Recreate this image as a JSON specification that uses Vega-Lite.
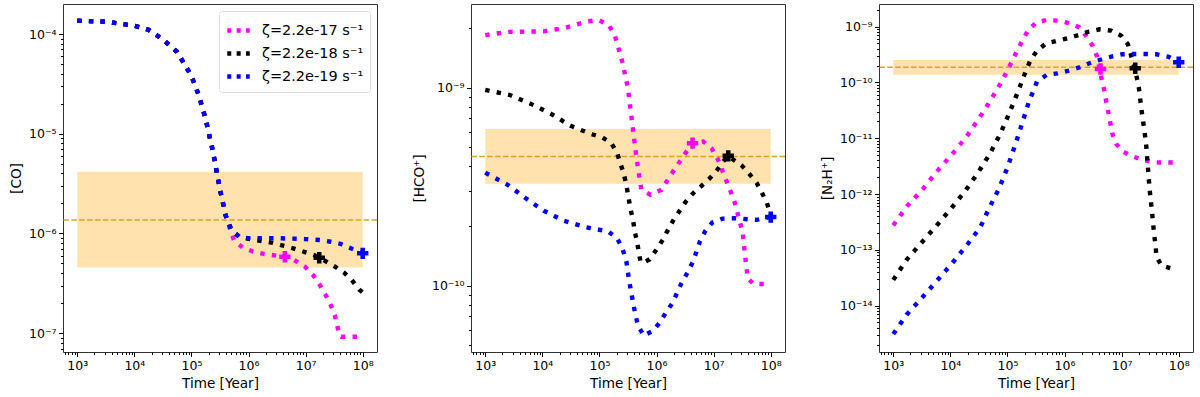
{
"$schema": "https://vega.github.io/schema/vega-lite/v6.json",
"padding": {"left": 8, "top": 3, "right": 5, "bottom": 5},
"background": "white",
"config": {
  "font": "DejaVu Sans",
  "view": {"stroke": "#333", "strokeWidth": 1},
  "axis": {"domain": false, "grid": false, "tickColor": "black", "tickWidth": 1, "labelColor": "black", "labelFontSize": 12.5, "labelFont": "DejaVu Sans", "titleFont": "DejaVu Sans", "titleFontSize": 13.6, "titleFontWeight": "normal", "titleColor": "black", "labelOverlap": false, "labelFlush": false, "labelPadding": 2.5, "titlePadding": 5},
  "legend": {"labelFont": "DejaVu Sans", "labelFontSize": 14.5, "labelColor": "black"}
},
"datasets": {
  "lines": [
    {"p":"CO","s":"ζ=2.2e-17 s⁻¹","t":1e3,"v":1.36e-4},{"p":"CO","s":"ζ=2.2e-17 s⁻¹","t":3162,"v":1.33e-4},{"p":"CO","s":"ζ=2.2e-17 s⁻¹","t":1e4,"v":1.21e-4},{"p":"CO","s":"ζ=2.2e-17 s⁻¹","t":17783,"v":1.1e-4},{"p":"CO","s":"ζ=2.2e-17 s⁻¹","t":31623,"v":8.84e-5},{"p":"CO","s":"ζ=2.2e-17 s⁻¹","t":56234,"v":6.6e-5},{"p":"CO","s":"ζ=2.2e-17 s⁻¹","t":1e5,"v":3.79e-5},{"p":"CO","s":"ζ=2.2e-17 s⁻¹","t":133352,"v":2.46e-5},{"p":"CO","s":"ζ=2.2e-17 s⁻¹","t":177828,"v":1.39e-5},{"p":"CO","s":"ζ=2.2e-17 s⁻¹","t":237137,"v":6.7e-6},{"p":"CO","s":"ζ=2.2e-17 s⁻¹","t":316228,"v":2.74e-6},{"p":"CO","s":"ζ=2.2e-17 s⁻¹","t":398107,"v":1.51e-6},{"p":"CO","s":"ζ=2.2e-17 s⁻¹","t":501187,"v":1.0e-6},{"p":"CO","s":"ζ=2.2e-17 s⁻¹","t":562341,"v":8.4e-7},{"p":"CO","s":"ζ=2.2e-17 s⁻¹","t":787000,"v":7.24e-7},{"p":"CO","s":"ζ=2.2e-17 s⁻¹","t":1.21e6,"v":6.55e-7},{"p":"CO","s":"ζ=2.2e-17 s⁻¹","t":1.905e6,"v":6.2e-7},{"p":"CO","s":"ζ=2.2e-17 s⁻¹","t":4.325e6,"v":5.83e-7},{"p":"CO","s":"ζ=2.2e-17 s⁻¹","t":6.31e6,"v":5.4e-7},{"p":"CO","s":"ζ=2.2e-17 s⁻¹","t":9.77e6,"v":4.63e-7},{"p":"CO","s":"ζ=2.2e-17 s⁻¹","t":1.349e7,"v":3.82e-7},{"p":"CO","s":"ζ=2.2e-17 s⁻¹","t":1.778e7,"v":3.03e-7},{"p":"CO","s":"ζ=2.2e-17 s⁻¹","t":2.254e7,"v":2.4e-7},{"p":"CO","s":"ζ=2.2e-17 s⁻¹","t":2.754e7,"v":1.91e-7},{"p":"CO","s":"ζ=2.2e-17 s⁻¹","t":3.236e7,"v":1.52e-7},{"p":"CO","s":"ζ=2.2e-17 s⁻¹","t":3.606e7,"v":1.17e-7},{"p":"CO","s":"ζ=2.2e-17 s⁻¹","t":3.855e7,"v":9.5e-8},{"p":"CO","s":"ζ=2.2e-17 s⁻¹","t":4.2e7,"v":9.2e-8},{"p":"CO","s":"ζ=2.2e-17 s⁻¹","t":1e8,"v":9.2e-8},
    {"p":"CO","s":"ζ=2.2e-18 s⁻¹","t":1e3,"v":1.36e-4},{"p":"CO","s":"ζ=2.2e-18 s⁻¹","t":3162,"v":1.33e-4},{"p":"CO","s":"ζ=2.2e-18 s⁻¹","t":1e4,"v":1.21e-4},{"p":"CO","s":"ζ=2.2e-18 s⁻¹","t":17783,"v":1.1e-4},{"p":"CO","s":"ζ=2.2e-18 s⁻¹","t":31623,"v":8.84e-5},{"p":"CO","s":"ζ=2.2e-18 s⁻¹","t":56234,"v":6.6e-5},{"p":"CO","s":"ζ=2.2e-18 s⁻¹","t":1e5,"v":3.79e-5},{"p":"CO","s":"ζ=2.2e-18 s⁻¹","t":133352,"v":2.46e-5},{"p":"CO","s":"ζ=2.2e-18 s⁻¹","t":177828,"v":1.39e-5},{"p":"CO","s":"ζ=2.2e-18 s⁻¹","t":237137,"v":6.7e-6},{"p":"CO","s":"ζ=2.2e-18 s⁻¹","t":316228,"v":2.74e-6},{"p":"CO","s":"ζ=2.2e-18 s⁻¹","t":398107,"v":1.51e-6},{"p":"CO","s":"ζ=2.2e-18 s⁻¹","t":501187,"v":1.08e-6},{"p":"CO","s":"ζ=2.2e-18 s⁻¹","t":707946,"v":9.1e-7},{"p":"CO","s":"ζ=2.2e-18 s⁻¹","t":1e6,"v":8.83e-7},{"p":"CO","s":"ζ=2.2e-18 s⁻¹","t":2.63e6,"v":8.05e-7},{"p":"CO","s":"ζ=2.2e-18 s⁻¹","t":6.05e6,"v":7.08e-7},{"p":"CO","s":"ζ=2.2e-18 s⁻¹","t":1.409e7,"v":6.07e-7},{"p":"CO","s":"ζ=2.2e-18 s⁻¹","t":1.845e7,"v":5.61e-7},{"p":"CO","s":"ζ=2.2e-18 s⁻¹","t":3.162e7,"v":4.7e-7},{"p":"CO","s":"ζ=2.2e-18 s⁻¹","t":4.72e7,"v":4.03e-7},{"p":"CO","s":"ζ=2.2e-18 s⁻¹","t":6.457e7,"v":3.4e-7},{"p":"CO","s":"ζ=2.2e-18 s⁻¹","t":8.63e7,"v":2.74e-7},{"p":"CO","s":"ζ=2.2e-18 s⁻¹","t":1e8,"v":2.55e-7},
    {"p":"CO","s":"ζ=2.2e-19 s⁻¹","t":1e3,"v":1.36e-4},{"p":"CO","s":"ζ=2.2e-19 s⁻¹","t":3162,"v":1.33e-4},{"p":"CO","s":"ζ=2.2e-19 s⁻¹","t":1e4,"v":1.21e-4},{"p":"CO","s":"ζ=2.2e-19 s⁻¹","t":17783,"v":1.1e-4},{"p":"CO","s":"ζ=2.2e-19 s⁻¹","t":31623,"v":8.84e-5},{"p":"CO","s":"ζ=2.2e-19 s⁻¹","t":56234,"v":6.6e-5},{"p":"CO","s":"ζ=2.2e-19 s⁻¹","t":1e5,"v":3.79e-5},{"p":"CO","s":"ζ=2.2e-19 s⁻¹","t":133352,"v":2.46e-5},{"p":"CO","s":"ζ=2.2e-19 s⁻¹","t":177828,"v":1.39e-5},{"p":"CO","s":"ζ=2.2e-19 s⁻¹","t":237137,"v":6.7e-6},{"p":"CO","s":"ζ=2.2e-19 s⁻¹","t":316228,"v":2.74e-6},{"p":"CO","s":"ζ=2.2e-19 s⁻¹","t":398107,"v":1.51e-6},{"p":"CO","s":"ζ=2.2e-19 s⁻¹","t":501187,"v":1.08e-6},{"p":"CO","s":"ζ=2.2e-19 s⁻¹","t":707946,"v":9.1e-7},{"p":"CO","s":"ζ=2.2e-19 s⁻¹","t":1e6,"v":8.97e-7},{"p":"CO","s":"ζ=2.2e-19 s⁻¹","t":3.16e6,"v":8.95e-7},{"p":"CO","s":"ζ=2.2e-19 s⁻¹","t":1e7,"v":8.77e-7},{"p":"CO","s":"ζ=2.2e-19 s⁻¹","t":1.778e7,"v":8.57e-7},{"p":"CO","s":"ζ=2.2e-19 s⁻¹","t":2.754e7,"v":8.24e-7},{"p":"CO","s":"ζ=2.2e-19 s⁻¹","t":4.2e7,"v":7.82e-7},{"p":"CO","s":"ζ=2.2e-19 s⁻¹","t":5.62e7,"v":7.24e-7},{"p":"CO","s":"ζ=2.2e-19 s⁻¹","t":7.9e7,"v":6.7e-7},{"p":"CO","s":"ζ=2.2e-19 s⁻¹","t":1e8,"v":6.31e-7},

    {"p":"HCO","s":"ζ=2.2e-17 s⁻¹","t":1e3,"v":1.84e-9},{"p":"HCO","s":"ζ=2.2e-17 s⁻¹","t":2630,"v":1.91e-9},{"p":"HCO","s":"ζ=2.2e-17 s⁻¹","t":10470,"v":1.92e-9},{"p":"HCO","s":"ζ=2.2e-17 s⁻¹","t":25120,"v":2.0e-9},{"p":"HCO","s":"ζ=2.2e-17 s⁻¹","t":63100,"v":2.16e-9},{"p":"HCO","s":"ζ=2.2e-17 s⁻¹","t":97700,"v":2.19e-9},{"p":"HCO","s":"ζ=2.2e-17 s⁻¹","t":144500,"v":2.07e-9},{"p":"HCO","s":"ζ=2.2e-17 s⁻¹","t":184500,"v":1.85e-9},{"p":"HCO","s":"ζ=2.2e-17 s⁻¹","t":251200,"v":1.35e-9},{"p":"HCO","s":"ζ=2.2e-17 s⁻¹","t":316200,"v":9.9e-10},{"p":"HCO","s":"ζ=2.2e-17 s⁻¹","t":387300,"v":6.12e-10},{"p":"HCO","s":"ζ=2.2e-17 s⁻¹","t":442600,"v":4.49e-10},{"p":"HCO","s":"ζ=2.2e-17 s⁻¹","t":542000,"v":3.05e-10},{"p":"HCO","s":"ζ=2.2e-17 s⁻¹","t":780000,"v":2.88e-10},{"p":"HCO","s":"ζ=2.2e-17 s⁻¹","t":1.216e6,"v":3.05e-10},{"p":"HCO","s":"ζ=2.2e-17 s⁻¹","t":1.95e6,"v":3.77e-10},{"p":"HCO","s":"ζ=2.2e-17 s⁻¹","t":3.214e6,"v":4.67e-10},{"p":"HCO","s":"ζ=2.2e-17 s⁻¹","t":4.266e6,"v":5.24e-10},{"p":"HCO","s":"ζ=2.2e-17 s⁻¹","t":6.56e6,"v":5.34e-10},{"p":"HCO","s":"ζ=2.2e-17 s⁻¹","t":9.2e6,"v":4.94e-10},{"p":"HCO","s":"ζ=2.2e-17 s⁻¹","t":1.202e7,"v":4.31e-10},{"p":"HCO","s":"ζ=2.2e-17 s⁻¹","t":1.479e7,"v":3.7e-10},{"p":"HCO","s":"ζ=2.2e-17 s⁻¹","t":1.932e7,"v":3.05e-10},{"p":"HCO","s":"ζ=2.2e-17 s⁻¹","t":2.366e7,"v":2.61e-10},{"p":"HCO","s":"ζ=2.2e-17 s⁻¹","t":2.818e7,"v":2.15e-10},{"p":"HCO","s":"ζ=2.2e-17 s⁻¹","t":3.236e7,"v":1.85e-10},{"p":"HCO","s":"ζ=2.2e-17 s⁻¹","t":3.548e7,"v":1.43e-10},{"p":"HCO","s":"ζ=2.2e-17 s⁻¹","t":3.945e7,"v":1.09e-10},{"p":"HCO","s":"ζ=2.2e-17 s⁻¹","t":5.012e7,"v":1.02e-10},{"p":"HCO","s":"ζ=2.2e-17 s⁻¹","t":1e8,"v":1.02e-10},
    {"p":"HCO","s":"ζ=2.2e-18 s⁻¹","t":1e3,"v":9.73e-10},{"p":"HCO","s":"ζ=2.2e-18 s⁻¹","t":2630,"v":9.19e-10},{"p":"HCO","s":"ζ=2.2e-18 s⁻¹","t":6310,"v":8.27e-10},{"p":"HCO","s":"ζ=2.2e-18 s⁻¹","t":14220,"v":7.37e-10},{"p":"HCO","s":"ζ=2.2e-18 s⁻¹","t":30690,"v":6.43e-10},{"p":"HCO","s":"ζ=2.2e-18 s⁻¹","t":71780,"v":5.82e-10},{"p":"HCO","s":"ζ=2.2e-18 s⁻¹","t":110400,"v":5.62e-10},{"p":"HCO","s":"ζ=2.2e-18 s⁻¹","t":161100,"v":5.24e-10},{"p":"HCO","s":"ζ=2.2e-18 s⁻¹","t":202800,"v":4.7e-10},{"p":"HCO","s":"ζ=2.2e-18 s⁻¹","t":231700,"v":4.15e-10},{"p":"HCO","s":"ζ=2.2e-18 s⁻¹","t":265500,"v":3.7e-10},{"p":"HCO","s":"ζ=2.2e-18 s⁻¹","t":295800,"v":3.23e-10},{"p":"HCO","s":"ζ=2.2e-18 s⁻¹","t":320600,"v":2.82e-10},{"p":"HCO","s":"ζ=2.2e-18 s⁻¹","t":347500,"v":2.46e-10},{"p":"HCO","s":"ζ=2.2e-18 s⁻¹","t":387300,"v":2.15e-10},{"p":"HCO","s":"ζ=2.2e-18 s⁻¹","t":414000,"v":1.88e-10},{"p":"HCO","s":"ζ=2.2e-18 s⁻¹","t":455000,"v":1.67e-10},{"p":"HCO","s":"ζ=2.2e-18 s⁻¹","t":521200,"v":1.33e-10},{"p":"HCO","s":"ζ=2.2e-18 s⁻¹","t":579400,"v":1.3e-10},{"p":"HCO","s":"ζ=2.2e-18 s⁻¹","t":758600,"v":1.36e-10},{"p":"HCO","s":"ζ=2.2e-18 s⁻¹","t":995400,"v":1.52e-10},{"p":"HCO","s":"ζ=2.2e-18 s⁻¹","t":1.259e6,"v":1.69e-10},{"p":"HCO","s":"ζ=2.2e-18 s⁻¹","t":1.549e6,"v":1.89e-10},{"p":"HCO","s":"ζ=2.2e-18 s⁻¹","t":1.95e6,"v":2.13e-10},{"p":"HCO","s":"ζ=2.2e-18 s⁻¹","t":2.489e6,"v":2.37e-10},{"p":"HCO","s":"ζ=2.2e-18 s⁻¹","t":3.258e6,"v":2.66e-10},{"p":"HCO","s":"ζ=2.2e-18 s⁻¹","t":4.385e6,"v":2.93e-10},{"p":"HCO","s":"ζ=2.2e-18 s⁻¹","t":6.138e6,"v":3.19e-10},{"p":"HCO","s":"ζ=2.2e-18 s⁻¹","t":8.59e6,"v":3.49e-10},{"p":"HCO","s":"ζ=2.2e-18 s⁻¹","t":1.156e7,"v":3.84e-10},{"p":"HCO","s":"ζ=2.2e-18 s⁻¹","t":1.476e7,"v":4.24e-10},{"p":"HCO","s":"ζ=2.2e-18 s⁻¹","t":1.803e7,"v":4.52e-10},{"p":"HCO","s":"ζ=2.2e-18 s⁻¹","t":2.153e7,"v":4.35e-10},{"p":"HCO","s":"ζ=2.2e-18 s⁻¹","t":3.09e7,"v":4.05e-10},{"p":"HCO","s":"ζ=2.2e-18 s⁻¹","t":4.217e7,"v":3.67e-10},{"p":"HCO","s":"ζ=2.2e-18 s⁻¹","t":5.675e7,"v":3.3e-10},{"p":"HCO","s":"ζ=2.2e-18 s⁻¹","t":6.95e7,"v":2.96e-10},{"p":"HCO","s":"ζ=2.2e-18 s⁻¹","t":8.51e7,"v":2.63e-10},{"p":"HCO","s":"ζ=2.2e-18 s⁻¹","t":1e8,"v":2.28e-10},
    {"p":"HCO","s":"ζ=2.2e-19 s⁻¹","t":1e3,"v":3.72e-10},{"p":"HCO","s":"ζ=2.2e-19 s⁻¹","t":2466,"v":3.23e-10},{"p":"HCO","s":"ζ=2.2e-19 s⁻¹","t":5047,"v":2.77e-10},{"p":"HCO","s":"ζ=2.2e-19 s⁻¹","t":10590,"v":2.39e-10},{"p":"HCO","s":"ζ=2.2e-19 s⁻¹","t":23440,"v":2.13e-10},{"p":"HCO","s":"ζ=2.2e-19 s⁻¹","t":58610,"v":1.97e-10},{"p":"HCO","s":"ζ=2.2e-19 s⁻¹","t":140900,"v":1.88e-10},{"p":"HCO","s":"ζ=2.2e-19 s⁻¹","t":202800,"v":1.74e-10},{"p":"HCO","s":"ζ=2.2e-19 s⁻¹","t":251200,"v":1.55e-10},{"p":"HCO","s":"ζ=2.2e-19 s⁻¹","t":295800,"v":1.33e-10},{"p":"HCO","s":"ζ=2.2e-19 s⁻¹","t":329600,"v":1.07e-10},{"p":"HCO","s":"ζ=2.2e-19 s⁻¹","t":362200,"v":9.18e-11},{"p":"HCO","s":"ζ=2.2e-19 s⁻¹","t":425600,"v":7.14e-11},{"p":"HCO","s":"ζ=2.2e-19 s⁻¹","t":474200,"v":6.29e-11},{"p":"HCO","s":"ζ=2.2e-19 s⁻¹","t":595700,"v":5.6e-11},{"p":"HCO","s":"ζ=2.2e-19 s⁻¹","t":871000,"v":5.93e-11},{"p":"HCO","s":"ζ=2.2e-19 s⁻¹","t":1.138e6,"v":6.53e-11},{"p":"HCO","s":"ζ=2.2e-19 s⁻¹","t":1.445e6,"v":7.28e-11},{"p":"HCO","s":"ζ=2.2e-19 s⁻¹","t":1.901e6,"v":8.18e-11},{"p":"HCO","s":"ζ=2.2e-19 s⁻¹","t":2.735e6,"v":1.03e-10},{"p":"HCO","s":"ζ=2.2e-19 s⁻¹","t":3.581e6,"v":1.18e-10},{"p":"HCO","s":"ζ=2.2e-19 s⁻¹","t":4.385e6,"v":1.33e-10},{"p":"HCO","s":"ζ=2.2e-19 s⁻¹","t":5.741e6,"v":1.67e-10},{"p":"HCO","s":"ζ=2.2e-19 s⁻¹","t":7.211e6,"v":1.9e-10},{"p":"HCO","s":"ζ=2.2e-19 s⁻¹","t":9.44e6,"v":2.08e-10},{"p":"HCO","s":"ζ=2.2e-19 s⁻¹","t":1.435e7,"v":2.18e-10},{"p":"HCO","s":"ζ=2.2e-19 s⁻¹","t":2.301e7,"v":2.19e-10},{"p":"HCO","s":"ζ=2.2e-19 s⁻¹","t":5.675e7,"v":2.15e-10},{"p":"HCO","s":"ζ=2.2e-19 s⁻¹","t":1e8,"v":2.22e-10},

    {"p":"N2H","s":"ζ=2.2e-17 s⁻¹","t":1e3,"v":2.75e-13},{"p":"N2H","s":"ζ=2.2e-17 s⁻¹","t":1762,"v":6.16e-13},{"p":"N2H","s":"ζ=2.2e-17 s⁻¹","t":3311,"v":1.24e-12},{"p":"N2H","s":"ζ=2.2e-17 s⁻¹","t":5929,"v":2.61e-12},{"p":"N2H","s":"ζ=2.2e-17 s⁻¹","t":10860,"v":5.26e-12},{"p":"N2H","s":"ζ=2.2e-17 s⁻¹","t":19140,"v":1.07e-11},{"p":"N2H","s":"ζ=2.2e-17 s⁻¹","t":31990,"v":2.29e-11},{"p":"N2H","s":"ζ=2.2e-17 s⁻¹","t":51290,"v":4.87e-11},{"p":"N2H","s":"ζ=2.2e-17 s⁻¹","t":82220,"v":1.11e-10},{"p":"N2H","s":"ζ=2.2e-17 s⁻¹","t":123000,"v":2.53e-10},{"p":"N2H","s":"ζ=2.2e-17 s⁻¹","t":184500,"v":5.77e-10},{"p":"N2H","s":"ζ=2.2e-17 s⁻¹","t":231700,"v":8.71e-10},{"p":"N2H","s":"ζ=2.2e-17 s⁻¹","t":316200,"v":1.18e-9},{"p":"N2H","s":"ζ=2.2e-17 s⁻¹","t":486400,"v":1.32e-9},{"p":"N2H","s":"ζ=2.2e-17 s⁻¹","t":779800,"v":1.28e-9},{"p":"N2H","s":"ζ=2.2e-17 s⁻¹","t":1.216e6,"v":1.15e-9},{"p":"N2H","s":"ζ=2.2e-17 s⁻¹","t":1.824e6,"v":9.73e-10},{"p":"N2H","s":"ζ=2.2e-17 s⁻¹","t":2.388e6,"v":6.81e-10},{"p":"N2H","s":"ζ=2.2e-17 s⁻¹","t":3.126e6,"v":4.51e-10},{"p":"N2H","s":"ζ=2.2e-17 s⁻¹","t":3.724e6,"v":2.9e-10},{"p":"N2H","s":"ζ=2.2e-17 s⁻¹","t":4.093e6,"v":1.8e-10},{"p":"N2H","s":"ζ=2.2e-17 s⁻¹","t":4.498e6,"v":1.11e-10},{"p":"N2H","s":"ζ=2.2e-17 s⁻¹","t":5.012e6,"v":6.87e-11},{"p":"N2H","s":"ζ=2.2e-17 s⁻¹","t":5.508e6,"v":3.96e-11},{"p":"N2H","s":"ζ=2.2e-17 s⁻¹","t":6.138e6,"v":2.29e-11},{"p":"N2H","s":"ζ=2.2e-17 s⁻¹","t":6.839e6,"v":1.23e-11},{"p":"N2H","s":"ζ=2.2e-17 s⁻¹","t":8.035e6,"v":7.94e-12},{"p":"N2H","s":"ζ=2.2e-17 s⁻¹","t":1.052e7,"v":5.79e-12},{"p":"N2H","s":"ζ=2.2e-17 s⁻¹","t":1.578e7,"v":4.71e-12},{"p":"N2H","s":"ζ=2.2e-17 s⁻¹","t":2.366e7,"v":4.1e-12},{"p":"N2H","s":"ζ=2.2e-17 s⁻¹","t":3.784e7,"v":3.68e-12},{"p":"N2H","s":"ζ=2.2e-17 s⁻¹","t":1e8,"v":3.68e-12},
    {"p":"N2H","s":"ζ=2.2e-18 s⁻¹","t":1e3,"v":2.9e-14},{"p":"N2H","s":"ζ=2.2e-18 s⁻¹","t":1714,"v":6.65e-14},{"p":"N2H","s":"ζ=2.2e-18 s⁻¹","t":3148,"v":1.36e-13},{"p":"N2H","s":"ζ=2.2e-18 s⁻¹","t":5689,"v":2.7e-13},{"p":"N2H","s":"ζ=2.2e-18 s⁻¹","t":10450,"v":5.6e-13},{"p":"N2H","s":"ζ=2.2e-18 s⁻¹","t":17910,"v":1.11e-12},{"p":"N2H","s":"ζ=2.2e-18 s⁻¹","t":30690,"v":2.44e-12},{"p":"N2H","s":"ζ=2.2e-18 s⁻¹","t":49890,"v":5.41e-12},{"p":"N2H","s":"ζ=2.2e-18 s⁻¹","t":74820,"v":1.2e-11},{"p":"N2H","s":"ζ=2.2e-18 s⁻¹","t":107600,"v":2.81e-11},{"p":"N2H","s":"ζ=2.2e-18 s⁻¹","t":150700,"v":6.59e-11},{"p":"N2H","s":"ζ=2.2e-18 s⁻¹","t":210900,"v":1.63e-10},{"p":"N2H","s":"ζ=2.2e-18 s⁻¹","t":251200,"v":2.46e-10},{"p":"N2H","s":"ζ=2.2e-18 s⁻¹","t":325100,"v":3.66e-10},{"p":"N2H","s":"ζ=2.2e-18 s⁻¹","t":461300,"v":4.9e-10},{"p":"N2H","s":"ζ=2.2e-18 s⁻¹","t":709600,"v":5.54e-10},{"p":"N2H","s":"ζ=2.2e-18 s⁻¹","t":1.138e6,"v":6.18e-10},{"p":"N2H","s":"ζ=2.2e-18 s⁻¹","t":1.774e6,"v":7.1e-10},{"p":"N2H","s":"ζ=2.2e-18 s⁻¹","t":2.661e6,"v":8.15e-10},{"p":"N2H","s":"ζ=2.2e-18 s⁻¹","t":4.093e6,"v":8.96e-10},{"p":"N2H","s":"ζ=2.2e-18 s⁻¹","t":6.561e6,"v":8.48e-10},{"p":"N2H","s":"ζ=2.2e-18 s⁻¹","t":9.84e6,"v":6.9e-10},{"p":"N2H","s":"ζ=2.2e-18 s⁻¹","t":1.288e7,"v":4.83e-10},{"p":"N2H","s":"ζ=2.2e-18 s⁻¹","t":1.476e7,"v":2.98e-10},{"p":"N2H","s":"ζ=2.2e-18 s⁻¹","t":1.687e7,"v":1.8e-10},{"p":"N2H","s":"ζ=2.2e-18 s⁻¹","t":1.854e7,"v":1.19e-10},{"p":"N2H","s":"ζ=2.2e-18 s⁻¹","t":2.009e7,"v":7.87e-11},{"p":"N2H","s":"ζ=2.2e-18 s⁻¹","t":2.123e7,"v":4.87e-11},{"p":"N2H","s":"ζ=2.2e-18 s⁻¹","t":2.27e7,"v":2.81e-11},{"p":"N2H","s":"ζ=2.2e-18 s⁻¹","t":2.427e7,"v":1.74e-11},{"p":"N2H","s":"ζ=2.2e-18 s⁻¹","t":2.564e7,"v":1.15e-11},{"p":"N2H","s":"ζ=2.2e-18 s⁻¹","t":2.704e7,"v":7.11e-12},{"p":"N2H","s":"ζ=2.2e-18 s⁻¹","t":2.891e7,"v":2.91e-12},{"p":"N2H","s":"ζ=2.2e-18 s⁻¹","t":3.097e7,"v":1.19e-12},{"p":"N2H","s":"ζ=2.2e-18 s⁻¹","t":3.404e7,"v":4.89e-13},{"p":"N2H","s":"ζ=2.2e-18 s⁻¹","t":3.69e7,"v":2.0e-13},{"p":"N2H","s":"ζ=2.2e-18 s⁻¹","t":3.945e7,"v":1.15e-13},{"p":"N2H","s":"ζ=2.2e-18 s⁻¹","t":4.055e7,"v":7.64e-14},{"p":"N2H","s":"ζ=2.2e-18 s⁻¹","t":4.966e7,"v":5.27e-14},{"p":"N2H","s":"ζ=2.2e-18 s⁻¹","t":7.943e7,"v":4.53e-14},
    {"p":"N2H","s":"ζ=2.2e-19 s⁻¹","t":1e3,"v":3.11e-15},{"p":"N2H","s":"ζ=2.2e-19 s⁻¹","t":1714,"v":6.9e-15},{"p":"N2H","s":"ζ=2.2e-19 s⁻¹","t":3148,"v":1.37e-14},{"p":"N2H","s":"ζ=2.2e-19 s⁻¹","t":5689,"v":2.73e-14},{"p":"N2H","s":"ζ=2.2e-19 s⁻¹","t":10450,"v":5.57e-14},{"p":"N2H","s":"ζ=2.2e-19 s⁻¹","t":18620,"v":1.15e-13},{"p":"N2H","s":"ζ=2.2e-19 s⁻¹","t":33270,"v":2.52e-13},{"p":"N2H","s":"ζ=2.2e-19 s⁻¹","t":47860,"v":5.6e-13},{"p":"N2H","s":"ζ=2.2e-19 s⁻¹","t":71780,"v":1.28e-12},{"p":"N2H","s":"ζ=2.2e-19 s⁻¹","t":100500,"v":3.03e-12},{"p":"N2H","s":"ζ=2.2e-19 s⁻¹","t":135200,"v":7.41e-12},{"p":"N2H","s":"ζ=2.2e-19 s⁻¹","t":179500,"v":1.81e-11},{"p":"N2H","s":"ζ=2.2e-19 s⁻¹","t":235000,"v":4.36e-11},{"p":"N2H","s":"ζ=2.2e-19 s⁻¹","t":276100,"v":6.59e-11},{"p":"N2H","s":"ζ=2.2e-19 s⁻¹","t":329600,"v":1.04e-10},{"p":"N2H","s":"ζ=2.2e-19 s⁻¹","t":486400,"v":1.37e-10},{"p":"N2H","s":"ζ=2.2e-19 s⁻¹","t":760300,"v":1.46e-10},{"p":"N2H","s":"ζ=2.2e-19 s⁻¹","t":1.186e6,"v":1.63e-10},{"p":"N2H","s":"ζ=2.2e-19 s⁻¹","t":1.824e6,"v":1.87e-10},{"p":"N2H","s":"ζ=2.2e-19 s⁻¹","t":2.735e6,"v":2.21e-10},{"p":"N2H","s":"ζ=2.2e-19 s⁻¹","t":4.093e6,"v":2.53e-10},{"p":"N2H","s":"ζ=2.2e-19 s⁻¹","t":6.561e6,"v":2.9e-10},{"p":"N2H","s":"ζ=2.2e-19 s⁻¹","t":1.026e7,"v":3.2e-10},{"p":"N2H","s":"ζ=2.2e-19 s⁻¹","t":1.641e7,"v":3.24e-10},{"p":"N2H","s":"ζ=2.2e-19 s⁻¹","t":2.6e7,"v":3.24e-10},{"p":"N2H","s":"ζ=2.2e-19 s⁻¹","t":4.055e7,"v":3.2e-10},{"p":"N2H","s":"ζ=2.2e-19 s⁻¹","t":6.501e7,"v":2.9e-10},{"p":"N2H","s":"ζ=2.2e-19 s⁻¹","t":1e8,"v":2.36e-10}
  ],
  "marks": [
    {"p":"CO","s":"ζ=2.2e-17 s⁻¹","t":4.33e6,"v":5.83e-7},{"p":"CO","s":"ζ=2.2e-18 s⁻¹","t":1.73e7,"v":5.7e-7},{"p":"CO","s":"ζ=2.2e-19 s⁻¹","t":1e8,"v":6.31e-7},
    {"p":"HCO","s":"ζ=2.2e-17 s⁻¹","t":4.27e6,"v":5.24e-10},{"p":"HCO","s":"ζ=2.2e-18 s⁻¹","t":1.8e7,"v":4.52e-10},{"p":"HCO","s":"ζ=2.2e-19 s⁻¹","t":1e8,"v":2.22e-10},
    {"p":"N2H","s":"ζ=2.2e-17 s⁻¹","t":4.27e6,"v":1.75e-10},{"p":"N2H","s":"ζ=2.2e-18 s⁻¹","t":1.73e7,"v":1.8e-10},{"p":"N2H","s":"ζ=2.2e-19 s⁻¹","t":1e8,"v":2.3e-10}
  ],
  "bands": [
    {"p":"CO","t":1e3,"t2":1e8,"v":4.56e-7,"v2":4.16e-6},
    {"p":"HCO","t":1e3,"t2":1e8,"v":3.27e-10,"v2":6.17e-10},
    {"p":"N2H","t":1e3,"t2":1e8,"v":1.38e-10,"v2":2.54e-10}
  ],
  "obs": [
    {"p":"CO","v":1.36e-6},
    {"p":"HCO","v":4.49e-10},
    {"p":"N2H","v":1.87e-10}
  ]
},
"hconcat": [
  {
    "width": 314, "height": 348,
    "layer": [
      {"data": {"name": "bands"}, "transform": [{"filter": "datum.p == 'CO'"}], "mark": {"type": "rect", "color": "#ffa500", "opacity": 0.32},
       "encoding": {"x": {"field": "t", "type": "quantitative", "scale": {"type": "log", "domain": [562.34, 1.7783e8], "nice": false}}, "x2": {"field": "t2"},
                    "y": {"field": "v", "type": "quantitative", "scale": {"type": "log", "domain": [6.46e-8, 2.0e-4], "nice": false}}, "y2": {"field": "v2"}}},
      {"data": {"name": "obs"}, "transform": [{"filter": "datum.p == 'CO'"}], "mark": {"type": "rule", "color": "#daa520", "strokeWidth": 1.5, "strokeDash": [5.5, 2.4]},
       "encoding": {"y": {"field": "v", "type": "quantitative", "scale": {"type": "log", "domain": [6.46e-8, 2.0e-4], "nice": false}}}},
      {"data": {"name": "lines"}, "transform": [{"filter": "datum.p == 'CO'"}], "mark": {"type": "line", "strokeWidth": 4.4, "strokeDash": [4.4, 7.2], "strokeCap": "butt", "clip": true},
       "encoding": {
         "x": {"field": "t", "type": "quantitative", "scale": {"type": "log", "domain": [562.34, 1.7783e8], "nice": false},
               "axis": {"title": "Time [Year]", "values": [600,700,800,900,1e3,2e3,3e3,4e3,5e3,6e3,7e3,8e3,9e3,1e4,2e4,3e4,4e4,5e4,6e4,7e4,8e4,9e4,1e5,2e5,3e5,4e5,5e5,6e5,7e5,8e5,9e5,1e6,2e6,3e6,4e6,5e6,6e6,7e6,8e6,9e6,1e7,2e7,3e7,4e7,5e7,6e7,7e7,8e7,9e7,1e8],
                        "labelExpr": "abs(log(datum.value)/LN10-round(log(datum.value)/LN10))<0.001 ? '10'+replace(replace(replace(replace(replace(replace(replace(replace(replace(replace(replace(''+round(log(datum.value)/LN10),'-','⁻'),regexp('0','g'),'⁰'),regexp('1','g'),'¹'),regexp('2','g'),'²'),regexp('3','g'),'³'),regexp('4','g'),'⁴'),regexp('5','g'),'⁵'),regexp('6','g'),'⁶'),regexp('7','g'),'⁷'),regexp('8','g'),'⁸'),regexp('9','g'),'⁹') : ''",
                        "tickSize": {"condition": {"test": "abs(log(datum.value)/LN10-round(log(datum.value)/LN10))>0.001", "value": 2.5}, "value": 4.5}}},
         "y": {"field": "v", "type": "quantitative", "scale": {"type": "log", "domain": [6.46e-8, 2.0e-4], "nice": false},
               "axis": {"title": "[CO]", "values": [7e-8,8e-8,9e-8,1e-7,2e-7,3e-7,4e-7,5e-7,6e-7,7e-7,8e-7,9e-7,1e-6,2e-6,3e-6,4e-6,5e-6,6e-6,7e-6,8e-6,9e-6,1e-5,2e-5,3e-5,4e-5,5e-5,6e-5,7e-5,8e-5,9e-5,1e-4],
                        "labelExpr": "abs(log(datum.value)/LN10-round(log(datum.value)/LN10))<0.001 ? '10'+replace(replace(replace(replace(replace(replace(replace(replace(replace(replace(replace(''+round(log(datum.value)/LN10),'-','⁻'),regexp('0','g'),'⁰'),regexp('1','g'),'¹'),regexp('2','g'),'²'),regexp('3','g'),'³'),regexp('4','g'),'⁴'),regexp('5','g'),'⁵'),regexp('6','g'),'⁶'),regexp('7','g'),'⁷'),regexp('8','g'),'⁸'),regexp('9','g'),'⁹') : ''",
                        "tickSize": {"condition": {"test": "abs(log(datum.value)/LN10-round(log(datum.value)/LN10))>0.001", "value": 2.5}, "value": 4.5}}},
         "color": {"field": "s", "type": "nominal", "scale": {"domain": ["ζ=2.2e-17 s⁻¹", "ζ=2.2e-18 s⁻¹", "ζ=2.2e-19 s⁻¹"], "range": ["#ff00ff", "#000000", "#0000ff"]},
                   "legend": {"title": null, "orient": "top-right", "offset": 7, "padding": 6, "cornerRadius": 3, "strokeColor": "#dddddd", "fillColor": "white", "symbolType": "stroke", "symbolStrokeWidth": 4.4, "symbolDash": [4, 5.4], "symbolSize": 506, "labelOffset": 10, "rowPadding": 0}}
       }},
      {"data": {"name": "marks"}, "transform": [{"filter": "datum.p == 'CO'"}], "mark": {"type": "point", "shape": "cross", "filled": true, "size": 130, "opacity": 1, "strokeWidth": 0},
       "encoding": {"x": {"field": "t", "type": "quantitative", "scale": {"type": "log", "domain": [562.34, 1.7783e8], "nice": false}},
                    "y": {"field": "v", "type": "quantitative", "scale": {"type": "log", "domain": [6.46e-8, 2.0e-4], "nice": false}},
                    "fill": {"field": "s", "type": "nominal", "scale": {"domain": ["ζ=2.2e-17 s⁻¹", "ζ=2.2e-18 s⁻¹", "ζ=2.2e-19 s⁻¹"], "range": ["#ff00ff", "#000000", "#0000ff"]}, "legend": null}}}
    ]
  },
  {
    "width": 314, "height": 348,
    "layer": [
      {"data": {"name": "bands"}, "transform": [{"filter": "datum.p == 'HCO'"}], "mark": {"type": "rect", "color": "#ffa500", "opacity": 0.32},
       "encoding": {"x": {"field": "t", "type": "quantitative", "scale": {"type": "log", "domain": [562.34, 1.7783e8], "nice": false}}, "x2": {"field": "t2"},
                    "y": {"field": "v", "type": "quantitative", "scale": {"type": "log", "domain": [4.63e-11, 2.64e-9], "nice": false}}, "y2": {"field": "v2"}}},
      {"data": {"name": "obs"}, "transform": [{"filter": "datum.p == 'HCO'"}], "mark": {"type": "rule", "color": "#daa520", "strokeWidth": 1.5, "strokeDash": [5.5, 2.4]},
       "encoding": {"y": {"field": "v", "type": "quantitative", "scale": {"type": "log", "domain": [4.63e-11, 2.64e-9], "nice": false}}}},
      {"data": {"name": "lines"}, "transform": [{"filter": "datum.p == 'HCO'"}], "mark": {"type": "line", "strokeWidth": 4.4, "strokeDash": [4.4, 7.2], "strokeCap": "butt", "clip": true},
       "encoding": {
         "x": {"field": "t", "type": "quantitative", "scale": {"type": "log", "domain": [562.34, 1.7783e8], "nice": false},
               "axis": {"title": "Time [Year]", "values": [600,700,800,900,1e3,2e3,3e3,4e3,5e3,6e3,7e3,8e3,9e3,1e4,2e4,3e4,4e4,5e4,6e4,7e4,8e4,9e4,1e5,2e5,3e5,4e5,5e5,6e5,7e5,8e5,9e5,1e6,2e6,3e6,4e6,5e6,6e6,7e6,8e6,9e6,1e7,2e7,3e7,4e7,5e7,6e7,7e7,8e7,9e7,1e8],
                        "labelExpr": "abs(log(datum.value)/LN10-round(log(datum.value)/LN10))<0.001 ? '10'+replace(replace(replace(replace(replace(replace(replace(replace(replace(replace(replace(''+round(log(datum.value)/LN10),'-','⁻'),regexp('0','g'),'⁰'),regexp('1','g'),'¹'),regexp('2','g'),'²'),regexp('3','g'),'³'),regexp('4','g'),'⁴'),regexp('5','g'),'⁵'),regexp('6','g'),'⁶'),regexp('7','g'),'⁷'),regexp('8','g'),'⁸'),regexp('9','g'),'⁹') : ''",
                        "tickSize": {"condition": {"test": "abs(log(datum.value)/LN10-round(log(datum.value)/LN10))>0.001", "value": 2.5}, "value": 4.5}}},
         "y": {"field": "v", "type": "quantitative", "scale": {"type": "log", "domain": [4.63e-11, 2.64e-9], "nice": false},
               "axis": {"title": "[HCO⁺]", "values": [5e-11,6e-11,7e-11,8e-11,9e-11,1e-10,2e-10,3e-10,4e-10,5e-10,6e-10,7e-10,8e-10,9e-10,1e-9,2e-9],
                        "labelExpr": "abs(log(datum.value)/LN10-round(log(datum.value)/LN10))<0.001 ? '10'+replace(replace(replace(replace(replace(replace(replace(replace(replace(replace(replace(''+round(log(datum.value)/LN10),'-','⁻'),regexp('0','g'),'⁰'),regexp('1','g'),'¹'),regexp('2','g'),'²'),regexp('3','g'),'³'),regexp('4','g'),'⁴'),regexp('5','g'),'⁵'),regexp('6','g'),'⁶'),regexp('7','g'),'⁷'),regexp('8','g'),'⁸'),regexp('9','g'),'⁹') : ''",
                        "tickSize": {"condition": {"test": "abs(log(datum.value)/LN10-round(log(datum.value)/LN10))>0.001", "value": 2.5}, "value": 4.5}}},
         "color": {"field": "s", "type": "nominal", "scale": {"domain": ["ζ=2.2e-17 s⁻¹", "ζ=2.2e-18 s⁻¹", "ζ=2.2e-19 s⁻¹"], "range": ["#ff00ff", "#000000", "#0000ff"]}, "legend": null}
       }},
      {"data": {"name": "marks"}, "transform": [{"filter": "datum.p == 'HCO'"}], "mark": {"type": "point", "shape": "cross", "filled": true, "size": 130, "opacity": 1, "strokeWidth": 0},
       "encoding": {"x": {"field": "t", "type": "quantitative", "scale": {"type": "log", "domain": [562.34, 1.7783e8], "nice": false}},
                    "y": {"field": "v", "type": "quantitative", "scale": {"type": "log", "domain": [4.63e-11, 2.64e-9], "nice": false}},
                    "fill": {"field": "s", "type": "nominal", "scale": {"domain": ["ζ=2.2e-17 s⁻¹", "ζ=2.2e-18 s⁻¹", "ζ=2.2e-19 s⁻¹"], "range": ["#ff00ff", "#000000", "#0000ff"]}, "legend": null}}}
    ]
  },
  {
    "width": 314, "height": 348,
    "layer": [
      {"data": {"name": "bands"}, "transform": [{"filter": "datum.p == 'N2H'"}], "mark": {"type": "rect", "color": "#ffa500", "opacity": 0.32},
       "encoding": {"x": {"field": "t", "type": "quantitative", "scale": {"type": "log", "domain": [562.34, 1.7783e8], "nice": false}}, "x2": {"field": "t2"},
                    "y": {"field": "v", "type": "quantitative", "scale": {"type": "log", "domain": [1.48e-15, 2.55e-9], "nice": false}}, "y2": {"field": "v2"}}},
      {"data": {"name": "obs"}, "transform": [{"filter": "datum.p == 'N2H'"}], "mark": {"type": "rule", "color": "#daa520", "strokeWidth": 1.5, "strokeDash": [5.5, 2.4]},
       "encoding": {"y": {"field": "v", "type": "quantitative", "scale": {"type": "log", "domain": [1.48e-15, 2.55e-9], "nice": false}}}},
      {"data": {"name": "lines"}, "transform": [{"filter": "datum.p == 'N2H'"}], "mark": {"type": "line", "strokeWidth": 4.4, "strokeDash": [4.4, 7.2], "strokeCap": "butt", "clip": true},
       "encoding": {
         "x": {"field": "t", "type": "quantitative", "scale": {"type": "log", "domain": [562.34, 1.7783e8], "nice": false},
               "axis": {"title": "Time [Year]", "values": [600,700,800,900,1e3,2e3,3e3,4e3,5e3,6e3,7e3,8e3,9e3,1e4,2e4,3e4,4e4,5e4,6e4,7e4,8e4,9e4,1e5,2e5,3e5,4e5,5e5,6e5,7e5,8e5,9e5,1e6,2e6,3e6,4e6,5e6,6e6,7e6,8e6,9e6,1e7,2e7,3e7,4e7,5e7,6e7,7e7,8e7,9e7,1e8],
                        "labelExpr": "abs(log(datum.value)/LN10-round(log(datum.value)/LN10))<0.001 ? '10'+replace(replace(replace(replace(replace(replace(replace(replace(replace(replace(replace(''+round(log(datum.value)/LN10),'-','⁻'),regexp('0','g'),'⁰'),regexp('1','g'),'¹'),regexp('2','g'),'²'),regexp('3','g'),'³'),regexp('4','g'),'⁴'),regexp('5','g'),'⁵'),regexp('6','g'),'⁶'),regexp('7','g'),'⁷'),regexp('8','g'),'⁸'),regexp('9','g'),'⁹') : ''",
                        "tickSize": {"condition": {"test": "abs(log(datum.value)/LN10-round(log(datum.value)/LN10))>0.001", "value": 2.5}, "value": 4.5}}},
         "y": {"field": "v", "type": "quantitative", "scale": {"type": "log", "domain": [1.48e-15, 2.55e-9], "nice": false},
               "axis": {"title": "[N₂H⁺]", "values": [2e-15,3e-15,4e-15,5e-15,6e-15,7e-15,8e-15,9e-15,1e-14,2e-14,3e-14,4e-14,5e-14,6e-14,7e-14,8e-14,9e-14,1e-13,2e-13,3e-13,4e-13,5e-13,6e-13,7e-13,8e-13,9e-13,1e-12,2e-12,3e-12,4e-12,5e-12,6e-12,7e-12,8e-12,9e-12,1e-11,2e-11,3e-11,4e-11,5e-11,6e-11,7e-11,8e-11,9e-11,1e-10,2e-10,3e-10,4e-10,5e-10,6e-10,7e-10,8e-10,9e-10,1e-9,2e-9],
                        "labelExpr": "abs(log(datum.value)/LN10-round(log(datum.value)/LN10))<0.001 ? '10'+replace(replace(replace(replace(replace(replace(replace(replace(replace(replace(replace(''+round(log(datum.value)/LN10),'-','⁻'),regexp('0','g'),'⁰'),regexp('1','g'),'¹'),regexp('2','g'),'²'),regexp('3','g'),'³'),regexp('4','g'),'⁴'),regexp('5','g'),'⁵'),regexp('6','g'),'⁶'),regexp('7','g'),'⁷'),regexp('8','g'),'⁸'),regexp('9','g'),'⁹') : ''",
                        "tickSize": {"condition": {"test": "abs(log(datum.value)/LN10-round(log(datum.value)/LN10))>0.001", "value": 2.5}, "value": 4.5}}},
         "color": {"field": "s", "type": "nominal", "scale": {"domain": ["ζ=2.2e-17 s⁻¹", "ζ=2.2e-18 s⁻¹", "ζ=2.2e-19 s⁻¹"], "range": ["#ff00ff", "#000000", "#0000ff"]}, "legend": null}
       }},
      {"data": {"name": "marks"}, "transform": [{"filter": "datum.p == 'N2H'"}], "mark": {"type": "point", "shape": "cross", "filled": true, "size": 130, "opacity": 1, "strokeWidth": 0},
       "encoding": {"x": {"field": "t", "type": "quantitative", "scale": {"type": "log", "domain": [562.34, 1.7783e8], "nice": false}},
                    "y": {"field": "v", "type": "quantitative", "scale": {"type": "log", "domain": [1.48e-15, 2.55e-9], "nice": false}},
                    "fill": {"field": "s", "type": "nominal", "scale": {"domain": ["ζ=2.2e-17 s⁻¹", "ζ=2.2e-18 s⁻¹", "ζ=2.2e-19 s⁻¹"], "range": ["#ff00ff", "#000000", "#0000ff"]}, "legend": null}}}
    ]
  }
],
"spacing": 94,
"bounds": "flush",
"resolve": {"scale": {"x": "independent", "y": "independent", "color": "independent", "fill": "independent"}, "axis": {"x": "independent", "y": "independent"}, "legend": {"color": "independent", "fill": "independent"}}
}
